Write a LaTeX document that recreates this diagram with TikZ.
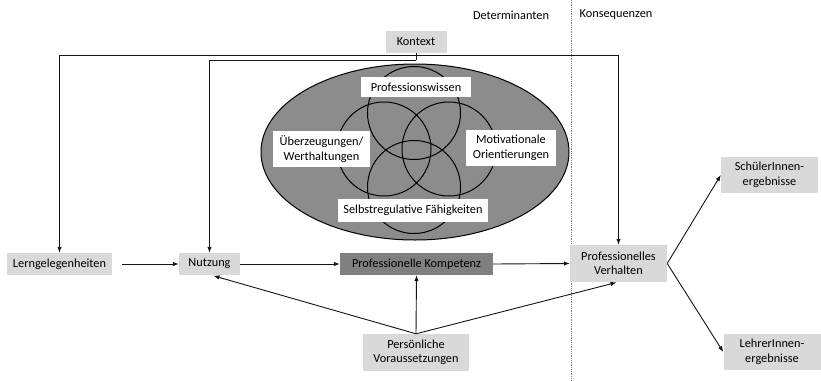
\documentclass[tikz,border=0pt]{standalone}
\usepackage{fontspec}
\setmainfont{Carlito}
\usetikzlibrary{arrows.meta,calc}
\definecolor{boxgray}{RGB}{217,217,217}
\definecolor{darkbox}{RGB}{128,128,128}
\definecolor{ellgray}{RGB}{140,140,140}
\definecolor{linecol}{RGB}{20,20,20}
\begin{document}
\begin{tikzpicture}[x=1pt,y=-1pt,
  every node/.style={font=\fontsize{12.3}{14.5}\selectfont, inner sep=0pt, align=center},
  gbox/.style={fill=boxgray, draw=none},
  wbox/.style={fill=white, draw=none},
  arr/.style={draw=linecol, line width=0.9pt, -{Latex[length=6pt,width=4.5pt]}},
  ln/.style={draw=linecol, line width=0.9pt},
  circ/.style={draw=black, line width=1pt}]
\useasboundingbox (0,0) rectangle (821,380);
% divider
\draw[gray, line width=0.8pt, densely dotted] (571,0) -- (571,380);
\node (det) at (511,15) {Determinanten};
\node (kon) at (616,15) {Konsequenzen};
% ellipse and circles
\draw[fill=ellgray, draw=black, line width=1pt] (415,152) ellipse [x radius=154, y radius=88];
\draw[circ] (414,113) circle [radius=46.5];
\draw[circ] (414,187) circle [radius=46.5];
\draw[circ] (384,149) circle [radius=47];
\draw[circ] (449,149) circle [radius=47];
\node[wbox, minimum width=110, minimum height=20] (pw) at (416,87) {Professionswissen};
\node[wbox, minimum width=97, minimum height=36] (ueb) at (321.5,149) {Überzeugungen/\\Werthaltungen};
\node[wbox, minimum width=90, minimum height=36] (mot) at (511,148) {Motivationale\\Orientierungen};
\node[wbox, minimum width=150, minimum height=23] (selb) at (413,210.5) {Selbstregulative Fähigkeiten};
% boxes
\node[gbox, minimum width=61, minimum height=22] (kontext) at (416,42) {Kontext};
\node[gbox, minimum width=105, minimum height=22] (lern) at (59.5,264) {Lerngelegenheiten};
\node[gbox, minimum width=61, minimum height=22] (nutz) at (209.5,264) {Nutzung};
\node[fill=darkbox, minimum width=153, minimum height=22] (komp) at (416.5,264) {Professionelle Kompetenz};
\node[gbox, minimum width=97, minimum height=37] (verh) at (618.5,263.5) {Professionelles\\Verhalten};
\node[gbox, minimum width=106, minimum height=37] (pers) at (416,352.5) {Persönliche\\Voraussetzungen};
\node[gbox, minimum width=97, minimum height=36] (schuel) at (769.5,175) {SchülerInnen-\\ergebnisse};
\node[gbox, minimum width=97, minimum height=36] (lehrer) at (772,352) {LehrerInnen-\\ergebnisse};
% context connectors
\coordinate (k1) at (416,55);
\coordinate (k2) at (416,60);
\draw[ln] (kontext.south) -- (k2);
\draw[arr] (k2) -| (nutz.north);
\draw[arr] (k1) -| (lern.north);
\draw[arr] (k1) -| (verh.north);
% main chain
\draw[arr, shorten <=10pt] (lern.east) -- (nutz.west);
\draw[arr] (nutz.east) -- (komp.west);
\draw[arr] (komp.east) -- (verh.west);
% personal prerequisites
\draw[arr] (pers.north) -- (komp.south);
\draw[arr, shorten >=2pt] (pers.north) -- ([xshift=2pt]nutz.south);
\draw[arr, shorten >=1pt] (pers.north) -- ([xshift=-1pt]verh.south);
% consequences
\draw[arr] (verh.east) -- (schuel.west);
\draw[arr] (verh.east) -- (lehrer.west);
\end{tikzpicture}
\end{document}
